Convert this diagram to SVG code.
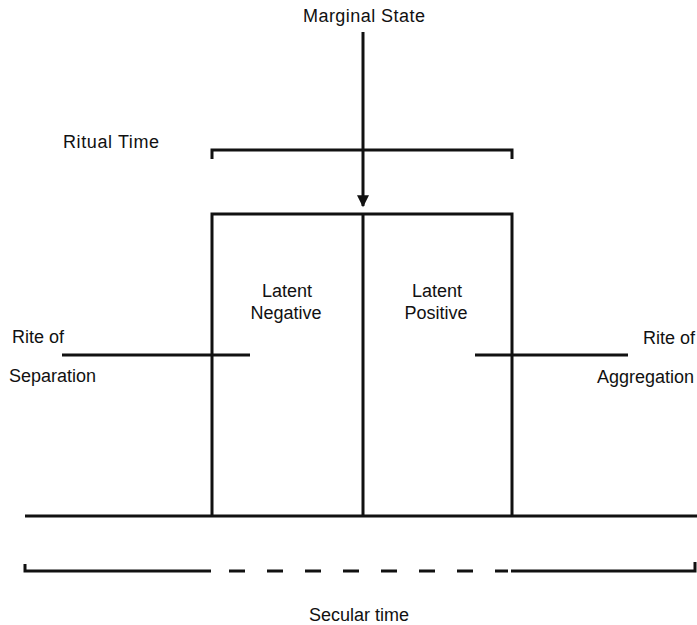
<svg xmlns="http://www.w3.org/2000/svg" width="697" height="625" viewBox="0 0 697 625">
  <style>
    .ln { stroke: #111; stroke-width: 3; fill: none; stroke-linecap: butt; }
    .lbl { font-family: "Liberation Sans", Arial, sans-serif; font-size: 18px; fill: #111; }
  </style>
  <defs>
    <marker id="arrow" viewBox="0 0 10 10" refX="9" refY="5" markerWidth="4.2" markerHeight="4" orient="auto" markerUnits="strokeWidth">
      <path d="M0,0 L10,5 L0,10 Z" fill="#111"/>
    </marker>
  </defs>
  <rect width="697" height="625" fill="#fff"/>

  <!-- labels -->
  <g id="marginal-state"><text class="lbl" x="364" y="22" text-anchor="middle" textLength="122">Marginal State</text></g>
  <g id="ritual-time">
    <text class="lbl" x="63" y="148" textLength="96">Ritual Time</text>
    <path class="ln" d="M212,159 V150 H512 V159"/>
  </g>
  <g id="latent-negative">
    <text class="lbl" x="287" y="297" text-anchor="middle">Latent</text>
    <text class="lbl" x="286" y="319" text-anchor="middle">Negative</text>
  </g>
  <g id="latent-positive">
    <text class="lbl" x="437" y="297" text-anchor="middle">Latent</text>
    <text class="lbl" x="436" y="319" text-anchor="middle">Positive</text>
  </g>
  <g id="rite-separation">
    <text class="lbl" x="12" y="343">Rite of</text>
    <text class="lbl" x="9" y="382">Separation</text>
  </g>
  <g id="rite-aggregation">
    <text class="lbl" x="695" y="344" text-anchor="end">Rite of</text>
    <text class="lbl" x="694" y="383" text-anchor="end">Aggregation</text>
  </g>
  <g id="secular-time"><text class="lbl" x="359" y="621" text-anchor="middle">Secular time</text></g>

  <!-- structure -->
  <g id="connectors">
    <line class="ln" x1="363" y1="32" x2="363" y2="206" marker-end="url(#arrow)"/>
    <!-- liminal box -->
    <path class="ln" d="M212,516 V214 H512 V516"/>
    <line class="ln" x1="363" y1="214" x2="363" y2="516"/>
    <!-- ground line -->
    <line class="ln" x1="25" y1="516" x2="697" y2="516"/>
    <!-- rite lines -->
    <line class="ln" x1="62" y1="355" x2="250" y2="355"/>
    <line class="ln" x1="475" y1="355" x2="628" y2="355"/>
    <!-- secular time bracket -->
    <path class="ln" d="M25,564 V571 H211"/>
    <line class="ln" x1="229" y1="571" x2="508" y2="571" stroke-dasharray="16 22"/>
    <path class="ln" d="M511,571 H695 V562"/>
  </g>
</svg>
